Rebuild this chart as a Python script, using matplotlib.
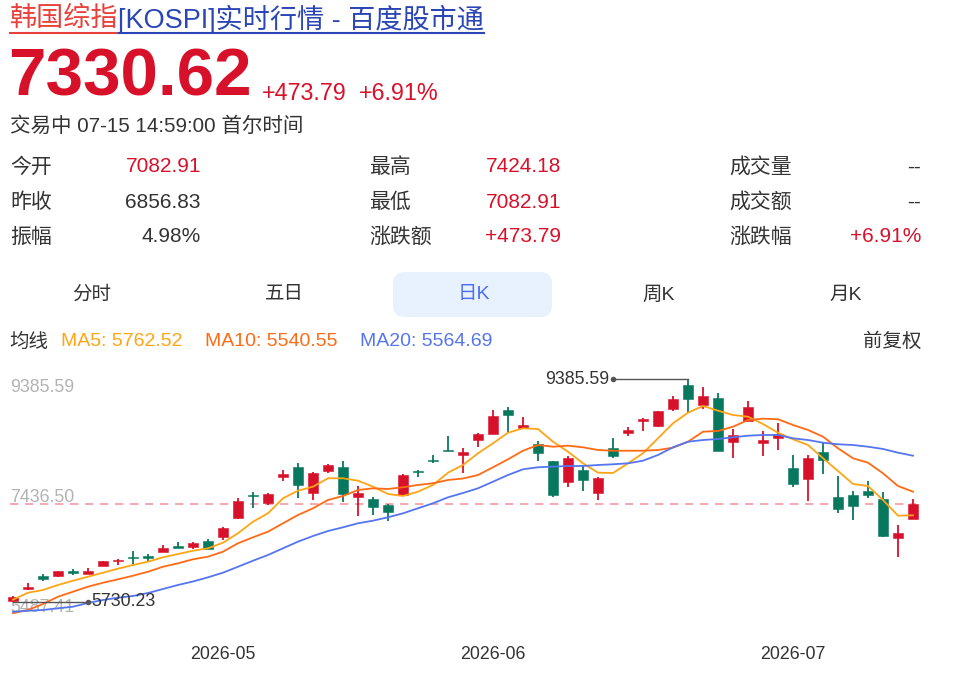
import matplotlib
matplotlib.use("Agg")
import matplotlib.pyplot as plt
from matplotlib.patches import FancyBboxPatch
from matplotlib.lines import Line2D

plt.rcParams['font.family'] = ['Liberation Sans', 'Noto Sans CJK SC', 'DejaVu Sans']

W, H = 963, 684

# ---- data ----
opens = [5745, 5933, 6152, 6152, 6239, 6184, 6316, 6394, 6469, 6469,
         6546, 6645, 6629, 6732, 6788, 7100, 7484, 7357, 7779, 7949,
         7521, 7878, 7949, 7446, 7422, 7319, 7489, 7883, 8059, 8223,
         8141, 8387, 8486, 8881, 8590, 8322, 8047, 7702, 7894, 7521,
         8251, 8498, 8700, 8623, 8892, 9292, 8963, 9078, 8359, 8705,
         8343, 8425, 7932, 7742, 8185, 7446, 7478, 7549, 7413, 6776,
         7082.91]
highs = [5825, 6032, 6185, 6239, 6262, 6283, 6400, 6426, 6557, 6513,
         6656, 6711, 6711, 6760, 6952, 7434, 7537, 7517, 7894, 8004,
         7866, 7993, 8047, 7631, 7446, 7335, 7823, 7894, 8136, 8454,
         8251, 8498, 8881, 8935, 8760, 8376, 8047, 8124, 7976, 7784,
         8425, 8596, 8744, 8869, 9111, 9385.59, 9254, 9166, 8563, 9034,
         8536, 8662, 8141, 8141, 8333, 7796, 7549, 7718, 7537, 6990,
         7424.18]
lows = [5730.23, 5921, 6075, 6130, 6173, 6184, 6316, 6327, 6316, 6403,
        6546, 6612, 6601, 6601, 6743, 7084, 7264, 7324, 7713, 7429,
        7401, 7840, 7373, 7138, 7150, 7061, 7478, 7784, 8004, 8202,
        7840, 8277, 8486, 8498, 8590, 8042, 7446, 7610, 7549, 7401,
        8087, 8454, 8540, 8606, 8869, 8836, 8892, 8206, 8087, 8705,
        8125, 8223, 7620, 7385, 7823, 7192, 7072, 7429, 6788, 6459,
        7082.91]
closes = [5809, 5976, 6097, 6229, 6206, 6229, 6394, 6415, 6447, 6452,
          6617, 6612, 6690, 6601, 6936, 7385, 7462, 7500, 7823, 7648,
          7840, 7976, 7500, 7511, 7281, 7209, 7807, 7856, 8037, 8202,
          8195, 8481, 8787, 8803, 8634, 8169, 7484, 8092, 7730, 7763,
          8125, 8552, 8728, 8859, 9057, 9057, 9111, 8206, 8470, 8925,
          8387, 8481, 7659, 8087, 8059, 7258, 7303, 7484, 6809, 6856.83,
          7330.62]
ma5 = [5762.52, 5877, 5921, 6004, 6074, 6140, 6206, 6272, 6332, 6387,
       6459, 6513, 6567, 6607, 6699, 6854, 7044, 7182, 7429, 7554,
       7620, 7758, 7758, 7718, 7620, 7500, 7467, 7537, 7648, 7850,
       7976, 8169, 8333, 8507, 8580, 8568, 8359, 8195, 8004, 7850,
       7845, 8004, 8169, 8415, 8662, 8836, 8946, 8869, 8798, 8770,
       8650, 8507, 8399, 8305, 8087, 7878, 7664, 7631, 7401, 7143,
       7149]
ma10 = [5540.55, 5593, 5691, 5811, 5893, 5976, 6041, 6097, 6156, 6222,
        6304, 6360, 6426, 6469, 6551, 6689, 6788, 6880, 7018, 7154,
        7265, 7401, 7467, 7565, 7593, 7582, 7610, 7648, 7676, 7730,
        7754, 7812, 7939, 8070, 8211, 8305, 8277, 8294, 8267, 8223,
        8211, 8211, 8211, 8223, 8261, 8359, 8524, 8535, 8606, 8716,
        8738, 8728, 8634, 8552, 8442, 8251, 8087, 8014, 7840, 7631,
        7537]
ma20 = [5564.69, 5580, 5593, 5621, 5647, 5708, 5757, 5795, 5823, 5872,
        5938, 6004, 6061, 6130, 6206, 6304, 6403, 6497, 6607, 6716,
        6809, 6891, 6952, 7018, 7061, 7117, 7182, 7265, 7347, 7445,
        7516, 7593, 7702, 7812, 7906, 7939, 7949, 7960, 7960, 7976,
        7988, 8004, 8047, 8141, 8267, 8359, 8387, 8404, 8432, 8458,
        8470, 8470, 8415, 8387, 8343, 8317, 8305, 8277, 8240, 8179,
        8129]
month_pos = [14, 32, 52]
month_labels = ['2026-05', '2026-06', '2026-07']
axis_labels = [9385.59, 7436.50, 5487.41]
last_price = 7330.62
max_idx, min_idx = 45, 0

RED = '#D8112A'
GREEN = '#07785E'
DARK = '#333333'
C_MA5, C_MA10, C_MA20 = '#FFA514', '#FF6A14', '#5575F0'

fig = plt.figure(figsize=(W / 100, H / 100), dpi=100)

# header overlay in pixel coordinates
bg = fig.add_axes([0, 0, 1, 1])
bg.set_xlim(0, W)
bg.set_ylim(H, 0)
bg.axis('off')

t1 = bg.text(10, 19, '韩国综指', color='#E8403A', fontsize=19.5, va='center', ha='left')
fig.canvas.draw()
inv = bg.transData.inverted()
x_end = inv.transform((t1.get_window_extent().x1, 0))[0]
t2 = bg.text(x_end, 19, '[KOSPI]实时行情 - 百度股市通', color='#2A45B5', fontsize=19.5,
             va='center', ha='left')
fig.canvas.draw()
x_end2 = inv.transform((t2.get_window_extent().x1, 0))[0]
bg.add_line(Line2D([10, x_end], [33, 33], color='#E8403A', lw=1.5))
bg.add_line(Line2D([x_end, x_end2], [33, 33], color='#2A45B5', lw=1.5))

bg.text(8, 79, '7330.62', color=RED, fontsize=48.5, fontweight='bold', va='center', ha='left')
bg.text(262, 93, '+473.79', color=RED, fontsize=16.8, va='center', ha='left')
bg.text(359, 93, '+6.91%', color=RED, fontsize=16.8, va='center', ha='left')
bg.text(10, 126, '交易中 07-15 14:59:00 首尔时间', color=DARK, fontsize=14.8,
        va='center', ha='left')

rows = [167, 202, 237]
col1 = [('今开', '7082.91', RED), ('昨收', '6856.83', DARK), ('振幅', '4.98%', DARK)]
col2 = [('最高', '7424.18', RED), ('最低', '7082.91', RED), ('涨跌额', '+473.79', RED)]
col3 = [('成交量', '--', DARK), ('成交额', '--', DARK), ('涨跌幅', '+6.91%', RED)]
for y, (a, b, c) in zip(rows, col1):
    bg.text(10, y, a, color=DARK, fontsize=15, va='center')
    bg.text(201, y, b, color=c, fontsize=15, va='center', ha='right')
for y, (a, b, c) in zip(rows, col2):
    bg.text(369, y, a, color=DARK, fontsize=15, va='center')
    bg.text(561, y, b, color=c, fontsize=15, va='center', ha='right')
for y, (a, b, c) in zip(rows, col3):
    bg.text(729, y, a, color=DARK, fontsize=15, va='center')
    bg.text(921, y, b, color=c, fontsize=15, va='center', ha='right')

bg.add_patch(FancyBboxPatch((393, 272), 159, 45, boxstyle='round,pad=0,rounding_size=12',
                            fc='#E8F1FE', ec='none'))
tabs = [('分时', 92), ('五日', 284), ('日K', 474), ('周K', 659), ('月K', 846)]
for name, x in tabs:
    bg.text(x, 295, name, color='#4E6EF2' if name == '日K' else DARK, fontsize=14,
            va='center', ha='center')

bg.text(9, 342, '均线', color=DARK, fontsize=14, va='center')
bg.text(61, 342, 'MA5: %.2f' % ma5[0], color=C_MA5, fontsize=14, va='center')
bg.text(205, 342, 'MA10: %.2f' % ma10[0], color=C_MA10, fontsize=14, va='center')
bg.text(360, 342, 'MA20: %.2f' % ma20[0], color=C_MA20, fontsize=14, va='center')
bg.text(922, 342, '前复权', color=DARK, fontsize=14, va='center', ha='right')

# ---- candlestick chart ----
ax = fig.add_axes([5 / W, 1 - 625 / H, 920 / W, 255 / H])
ax.set_xlim(-0.533, 60.8)
ax.set_ylim(5346, 9538)
for s in ax.spines.values():
    s.set_visible(False)
ax.set_yticks([])

n = len(closes)
xs = list(range(n))
for i in xs:
    o, h, l, c = opens[i], highs[i], lows[i], closes[i]
    col = RED if c >= o else GREEN
    ax.vlines(i, l, h, color=col, lw=1.3, zorder=3)
    bot = min(o, c)
    ht = max(abs(c - o), 22)
    ax.bar(i, ht, bottom=bot, width=0.667, color=col, edgecolor=col, lw=0.4, zorder=4)

ax.plot(xs, ma5, color=C_MA5, lw=1.3, zorder=5)
ax.plot(xs, ma10, color=C_MA10, lw=1.3, zorder=5)
ax.plot(xs, ma20, color=C_MA20, lw=1.3, zorder=5)

ax.axhline(last_price, xmin=0.005, xmax=0.99, color='#F49AA2', lw=1.2,
           ls=(0, (5, 4)), zorder=2)

# axis value labels
ytr = ax.get_yaxis_transform()
for val, va in zip(axis_labels, ['top', 'center', 'bottom']):
    ax.text(0.0055, val, '%.2f' % val, transform=ytr, color='#B3B3B3',
            fontsize=12.8, va=va, ha='left', zorder=1)

# max / min annotations
ax.plot([max_idx, max_idx - 5], [highs[max_idx]] * 2, color='#555555', lw=1.0, zorder=6)
ax.plot([max_idx - 5], [highs[max_idx]], 'o', color='#555555', ms=3, zorder=6)
ax.text(max_idx - 5.25, highs[max_idx], '%.2f' % highs[max_idx], color=DARK, fontsize=12.8,
        va='center', ha='right', zorder=6)
ax.plot([min_idx, min_idx + 5], [lows[min_idx]] * 2, color='#555555', lw=1.0, zorder=6)
ax.plot([min_idx + 5], [lows[min_idx]], 'o', color='#555555', ms=3, zorder=6)
ax.text(min_idx + 5.25, lows[min_idx], '%.2f' % lows[min_idx], color=DARK, fontsize=12.8,
        va='center', ha='left', zorder=6)

ax.set_xticks(month_pos)
ax.set_xticklabels(month_labels)
ax.tick_params(axis='x', length=0, pad=15, labelsize=12.8, labelcolor=DARK)

fig.savefig('out.png', dpi=100)
